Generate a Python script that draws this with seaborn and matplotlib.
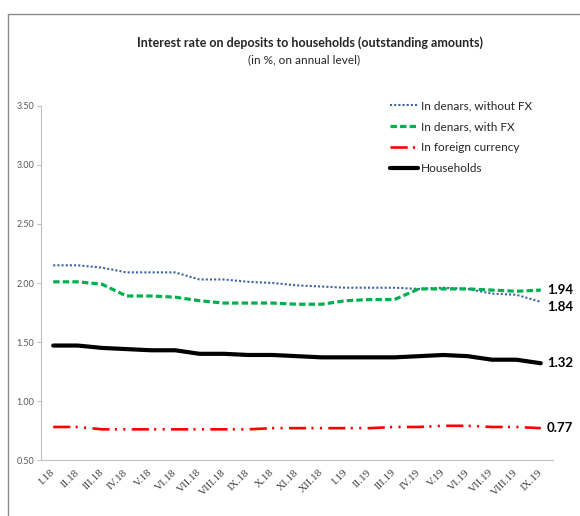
import pandas as pd
import seaborn as sns
import matplotlib
matplotlib.use("Agg")
import matplotlib.pyplot as plt
import matplotlib.transforms as mtransforms
from matplotlib.lines import Line2D

# data
months = ["I.18", "II.18", "III.18", "IV.18", "V.18", "VI.18", "VII.18", "VIII.18",
          "IX.18", "X.18", "XI.18", "XII.18", "I.19", "II.19", "III.19", "IV.19",
          "V.19", "VI.19", "VII.19", "VIII.19", "IX.19"]
denars_no_fx = [2.15, 2.15, 2.13, 2.09, 2.09, 2.09, 2.03, 2.03, 2.01, 2.00, 1.98,
                1.97, 1.96, 1.96, 1.96, 1.95, 1.96, 1.95, 1.91, 1.90, 1.84]
denars_fx = [2.01, 2.01, 1.99, 1.89, 1.89, 1.88, 1.85, 1.83, 1.83, 1.83, 1.82,
             1.82, 1.85, 1.86, 1.86, 1.95, 1.95, 1.95, 1.94, 1.93, 1.94]
foreign = [0.78, 0.78, 0.76, 0.76, 0.76, 0.76, 0.76, 0.76, 0.76, 0.77, 0.77,
           0.77, 0.77, 0.77, 0.78, 0.78, 0.79, 0.79, 0.78, 0.78, 0.77]
households = [1.47, 1.47, 1.45, 1.44, 1.43, 1.43, 1.40, 1.40, 1.39, 1.39, 1.38,
              1.37, 1.37, 1.37, 1.37, 1.38, 1.39, 1.38, 1.35, 1.35, 1.32]
labels = ["In denars, without FX", "In denars, with FX", "In foreign currency", "Households"]

sns.set_style("white")
plt.rcParams["font.family"] = ["Lato", "DejaVu Sans"]

df = pd.DataFrame({"month": months, labels[0]: denars_no_fx, labels[1]: denars_fx,
                   labels[2]: foreign, labels[3]: households})

fig = plt.figure(figsize=(5.8, 5.16), dpi=100)
ax = fig.add_axes([0.0707, 0.1085, 0.8827, 0.6861])

styles = {
    labels[0]: dict(color="#3c62a8", linewidth=1.5, linestyle=(0, (1, 1))),
    labels[1]: dict(color="#00b050", linewidth=2.3, linestyle=(0, (2, 1))),
    labels[2]: dict(color="#ff0000", linewidth=1.9, linestyle=(0, (6.5, 2, 0.8, 2.4, 0.8, 2.4))),
    labels[3]: dict(color="#000000", linewidth=3.0, linestyle="-"),
}
for name in labels:
    sns.lineplot(data=df, x="month", y=name, ax=ax, label=name, sort=False, **styles[name])

# end-of-series labels
ends = [df[labels[1]].iloc[-1], df[labels[0]].iloc[-1], df[labels[3]].iloc[-1], df[labels[2]].iloc[-1]]
shift = [0.0, -0.04, 0.0, 0.0]
for v, s in zip(ends, shift):
    ax.annotate(f"{v:.2f}", xy=(len(months) - 1, v + s), xytext=(4.5, 0),
                textcoords="offset points", ha="left", va="center",
                fontsize=9.5, fontweight="bold", color="black", annotation_clip=False)

ax.set_ylim(0.5, 3.5)
ax.set_yticks([0.5, 1.0, 1.5, 2.0, 2.5, 3.0, 3.5])
ax.set_yticklabels([f"{t:.2f}" for t in ax.get_yticks()], fontsize=6.5, color="#595959")
ax.set_xlim(-0.5, len(months) - 0.5)
ax.set_xticks(range(len(months)))
ax.set_xticklabels(months, rotation=45, ha="right", va="center", rotation_mode="anchor",
                   fontsize=8, family="Liberation Serif", color="#404040")
shift_right = mtransforms.ScaledTranslation(4 / 72, 0, fig.dpi_scale_trans)
for lab in ax.get_xticklabels():
    lab.set_transform(lab.get_transform() + shift_right)
ax.set_xticks([i - 0.5 for i in range(len(months) + 1)], minor=True)
ax.tick_params(axis="x", which="major", length=0, pad=8)
ax.tick_params(axis="x", which="minor", length=4, color="#bfbfbf", width=0.8)
ax.tick_params(axis="y", which="major", length=3, color="#bfbfbf", width=0.8, pad=2, left=True)
ax.set_xlabel("")
ax.set_ylabel("")
for side in ["top", "right"]:
    ax.spines[side].set_visible(False)
for side in ["left", "bottom"]:
    ax.spines[side].set_color("#bfbfbf")
    ax.spines[side].set_linewidth(0.8)

ax.legend(loc="upper left", bbox_to_anchor=(390 / 580, 1 - 100 / 516), bbox_transform=fig.transFigure,
          frameon=False, fontsize=8.5, handlelength=2.4, handletextpad=0.2, labelspacing=0.85,
          borderpad=0, borderaxespad=0)

fig.text(0.534, 1 - 43 / 516, "Interest rate on deposits to households (outstanding amounts)",
         ha="center", va="center", fontsize=9, fontweight="bold")
fig.text(0.524, 1 - 60 / 516, "(in %, on annual level)", ha="center", va="center", fontsize=8.5)

# outer frame
fig.add_artist(Line2D([8 / 580, 1], [1 - 14 / 516, 1 - 14 / 516], color="#8c8c8c", linewidth=1))
fig.add_artist(Line2D([8 / 580, 8 / 580], [0, 1 - 14 / 516], color="#8c8c8c", linewidth=1))

fig.savefig("out.png", dpi=100)
